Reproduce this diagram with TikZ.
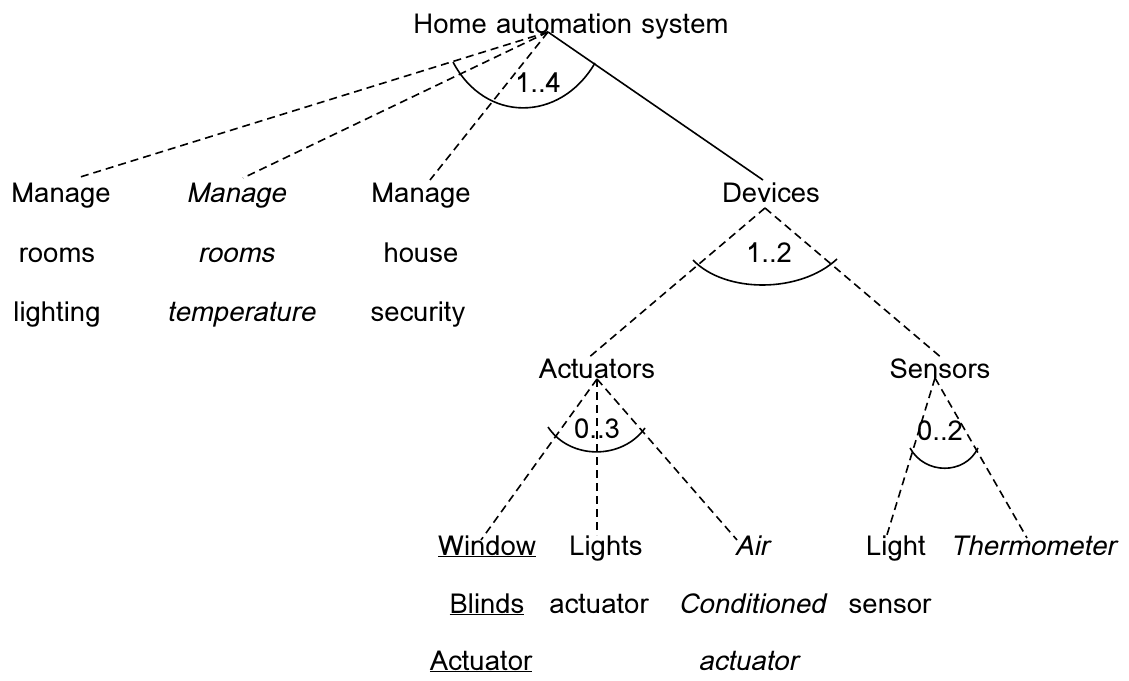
\documentclass[tikz,border=0pt]{standalone}
\usepackage{fontspec}
\setmainfont{Loma}
\begin{document}
\begin{tikzpicture}[x=1pt,y=-1pt,
  lbl/.style={anchor=base,inner sep=0pt,font=\fontsize{27.5}{32}\selectfont},
  ilbl/.style={lbl,font=\fontsize{27.5}{32}\selectfont\itshape},
  mand/.style={line width=1.6pt},
  opt/.style={line width=1.6pt,dash pattern=on 8pt off 5pt},
  grp/.style={line width=1.6pt}]
\useasboundingbox (0,0) rectangle (1129,680);

% root
\node[lbl] (root) at (571,33) {Home automation system};
\coordinate (root-out) at (548,32);

% first level
\node[lbl] (mlight) at (61,202) {Manage};
\node[lbl] (mlight-2) at (57,262) {rooms};
\node[lbl] (mlight-3) at (57,321) {lighting};
\coordinate (mlight-in) at (77,178);

\node[ilbl] (mtemp) at (236,202) {Manage};
\node[ilbl] (mtemp-2) at (236,262) {rooms};
\node[ilbl] (mtemp-3) at (241,321) {temperature};
\coordinate (mtemp-in) at (243,178);

\node[lbl] (msec) at (421,202) {Manage};
\node[lbl] (msec-2) at (421,262) {house};
\node[lbl] (msec-3) at (418,321) {security};
\coordinate (msec-in) at (430,180);

\node[lbl] (dev) at (771,202) {Devices};
\coordinate (dev-in) at (763,180);
\coordinate (dev-out) at (765,208);

% second level
\node[lbl] (act) at (597,378) {Actuators};
\coordinate (act-in) at (587,359);
\coordinate (act-out) at (597,379);

\node[lbl] (sen) at (940,378) {Sensors};
\coordinate (sen-in) at (943,359);
\coordinate (sen-out) at (935,378);

% leaves
\node[lbl] (win) at (487,555) {\underline{Window}};
\node[lbl] (win-2) at (487,613) {\underline{Blinds}};
\node[lbl] (win-3) at (481,670) {\underline{Actuator}};
\coordinate (win-in) at (481,540);

\node[lbl] (lgt) at (606,555) {Lights};
\node[lbl] (lgt-2) at (599,613) {actuator};
\coordinate (lgt-in) at (597,535);

\node[ilbl] (air) at (752,555) {Air};
\node[ilbl] (air-2) at (752,613) {Conditioned};
\node[ilbl] (air-3) at (748,670) {actuator};
\coordinate (air-in) at (737,540);

\node[lbl] (lsen) at (896,555) {Light};
\node[lbl] (lsen-2) at (890,613) {sensor};
\coordinate (lsen-in) at (886,538);

\node[ilbl] (thermo) at (1033,555) {Thermometer};
\coordinate (thermo-in) at (1027,538);

% connectors
\draw[opt] (root-out) -- (mlight-in);
\draw[opt] (root-out) -- (mtemp-in);
\draw[opt] (root-out) -- (msec-in);
\draw[mand] (root-out) -- (dev-in);

\draw[opt] (dev-out) -- (act-in);
\draw[opt] (dev-out) -- (sen-in);

\draw[opt] (act-out) -- (win-in);
\draw[opt] (act-out) -- (lgt-in);
\draw[opt] (act-out) -- (air-in);

\draw[opt] (sen-out) -- (lsen-in);
\draw[opt] (sen-out) -- (thermo-in);

% group cardinality arcs
\draw[grp] (453,62) .. controls (485,123) and (560,123) .. (595,63);
\node[lbl] (card-root) at (538,92) {1..4};

\draw[grp] (693,260) .. controls (725,293.5) and (800,293.5) .. (837,259);
\node[lbl] (card-dev) at (769,262) {1..2};

\draw[grp] (548,427) .. controls (570,460) and (622,460) .. (645,428);
\node[lbl] (card-act) at (597,438) {0..3};

\draw[grp] (910,448) .. controls (925,475) and (965,475) .. (978,448);
\node[lbl] (card-sen) at (940,440) {0..2};
\end{tikzpicture}
\end{document}
